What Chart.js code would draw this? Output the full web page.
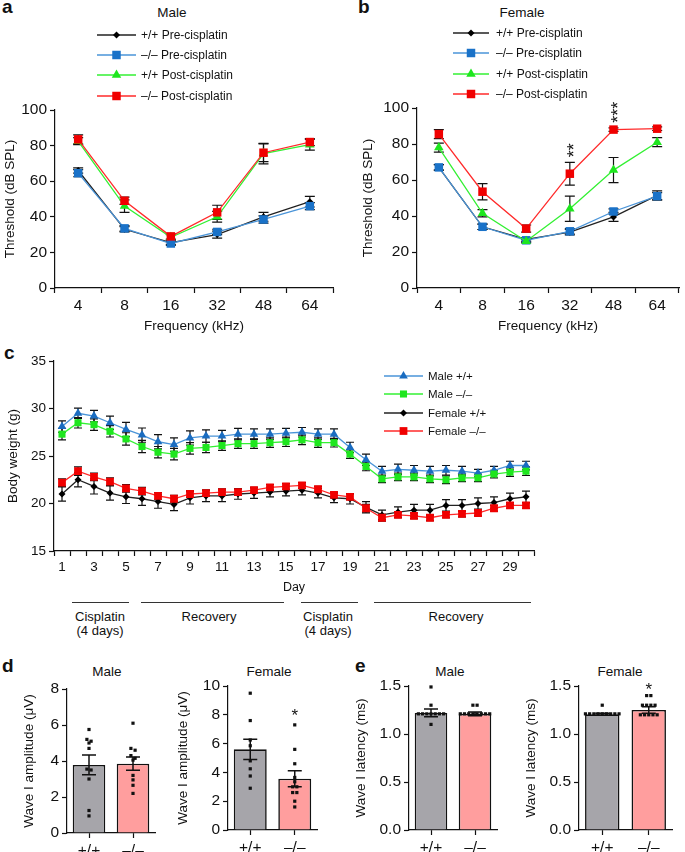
<!DOCTYPE html>
<html><head>
<meta charset="UTF-8">
<title>Cisplatin hearing thresholds, body weight and ABR wave I</title>
<script src="https://cdn.jsdelivr.net/npm/chart.js"></script>
<style>
  body { margin: 0; background: #fff; font-family: 'Liberation Sans', Arial, Helvetica, sans-serif; color: #111; }
  #fig { position: relative; width: 685px; height: 852px; overflow: hidden; }
  canvas { position: absolute; }
  .lbl { position: absolute; font-weight: bold; font-size: 19px; line-height: 19px; }
  .ttl { position: absolute; font-size: 13.5px; line-height: 16px; transform: translateX(-50%); white-space: nowrap; }
  .seg { position: absolute; height: 0; border-top: 1.6px solid #333; }
  .phase { position: absolute; font-size: 13px; line-height: 14px; text-align: center; transform: translateX(-50%); white-space: nowrap; }
</style>
</head>
<body>
<div id="fig">
  <div class="lbl" style="left:2px;top:-3px">a</div>
  <div class="lbl" style="left:358px;top:-3px">b</div>
  <div class="lbl" style="left:4px;top:343px">c</div>
  <div class="lbl" style="left:2px;top:656px">d</div>
  <div class="lbl" style="left:355px;top:656px">e</div>

  <div class="ttl" style="left:172px;top:5px">Male</div>
  <div class="ttl" style="left:522px;top:5px">Female</div>
  <div class="ttl" style="left:107px;top:664px">Male</div>
  <div class="ttl" style="left:269px;top:664px">Female</div>
  <div class="ttl" style="left:450px;top:664px">Male</div>
  <div class="ttl" style="left:620px;top:664px">Female</div>

  <canvas id="chartA" width="340" height="340" style="left:0;top:0"></canvas>
  <canvas id="chartB" width="345" height="340" style="left:340px;top:0"></canvas>
  <canvas id="chartC" width="545" height="260" style="left:0;top:340px"></canvas>
  <canvas id="chartD1" width="170" height="212" style="left:0;top:640px"></canvas>
  <canvas id="chartD2" width="160" height="212" style="left:170px;top:640px"></canvas>
  <canvas id="chartE1" width="165" height="212" style="left:340px;top:640px"></canvas>
  <canvas id="chartE2" width="180" height="212" style="left:505px;top:640px"></canvas>

  <div class="seg" style="left:72px;top:602px;width:57px"></div>
  <div class="seg" style="left:141px;top:602px;width:143px"></div>
  <div class="seg" style="left:301px;top:602px;width:57px"></div>
  <div class="seg" style="left:374px;top:602px;width:157px"></div>
  <div class="phase" style="left:100px;top:610px">Cisplatin<br>(4 days)</div>
  <div class="phase" style="left:209px;top:610px">Recovery</div>
  <div class="phase" style="left:328px;top:610px">Cisplatin<br>(4 days)</div>
  <div class="phase" style="left:456px;top:610px">Recovery</div>
</div>

<script>
  // ---- panel a / b : ABR thresholds (dB SPL), mean and SEM ----
  const freqLabels = ['4', '8', '16', '32', '48', '64'];

  const maleWtPre = [66, 33, 25.5, 30, 40, 48.5];
  const maleWtPreErr = [1.5, 1.5, 1, 2, 2.5, 3];
  const maleKoPre = [64.5, 33.5, 25, 31.5, 38.5, 46];
  const maleKoPreErr = [2, 1.5, 1, 1.5, 2, 2];
  const maleWtPost = [82.5, 46, 28.5, 40, 75.5, 80.5];
  const maleWtPostErr = [2, 3.5, 1.5, 3, 5.8, 3];
  const maleKoPost = [83.5, 49, 29, 42.5, 76, 82];
  const maleKoPostErr = [2.5, 2, 1.5, 4, 5, 2];

  const femWtPre = [67, 34, 27, 31, 39.5, 51.5];
  const femWtPreErr = [1.5, 1.5, 1, 1.5, 2.5, 2.5];
  const femKoPre = [67, 34, 26.5, 31.5, 42.5, 51];
  const femKoPreErr = [1.5, 1.5, 1, 1.5, 1.5, 2];
  const femWtPost = [78, 41.5, 26, 44, 65.5, 81];
  const femWtPostErr = [2.5, 2, 1, 7, 7, 2.5];
  const femKoPost = [85.5, 53.5, 33, 63.5, 88, 88.5];
  const femKoPostErr = [2.5, 4.5, 2, 6.3, 1, 1];
  const femKoPostSig = ['', '', '', '**', '***', ''];

  // ---- panel c : body weight (g) per day ----
  const dayLabels = ['1', '2', '3', '4', '5', '6', '7', '8', '9', '10', '11', '12', '13', '14', '15',
                     '16', '17', '18', '19', '20', '21', '22', '23', '24', '25', '26', '27', '28', '29', '30'];
  const wMaleWt = [28.1, 29.5, 29.2, 28.5, 27.8, 27.2, 26.5, 26.2, 26.9, 27.1, 27.1, 27.3, 27.3, 27.3, 27.4,
                   27.5, 27.3, 27.3, 25.9, 24.6, 23.4, 23.6, 23.5, 23.4, 23.5, 23.4, 23.2, 23.5, 24.0, 24.0];
  const wMaleWtErr = [0.6, 0.55, 0.6, 0.7, 0.75, 0.75, 0.75, 0.7, 0.75, 0.65, 0.6, 0.6, 0.55, 0.55, 0.5,
                      0.5, 0.55, 0.55, 0.55, 0.6, 0.5, 0.55, 0.5, 0.5, 0.5, 0.5, 0.4, 0.4, 0.45, 0.45];
  const wMaleKo = [27.3, 28.5, 28.3, 27.6, 26.8, 26.0, 25.4, 25.2, 25.8, 25.9, 26.1, 26.3, 26.3, 26.4, 26.5,
                   26.7, 26.4, 26.4, 25.2, 23.9, 22.6, 22.8, 22.8, 22.6, 22.5, 22.7, 22.7, 23.1, 23.3, 23.4];
  const wMaleKoErr = [0.6, 0.55, 0.6, 0.6, 0.65, 0.65, 0.6, 0.6, 0.6, 0.55, 0.5, 0.5, 0.5, 0.5, 0.5,
                      0.5, 0.5, 0.45, 0.45, 0.45, 0.4, 0.4, 0.4, 0.4, 0.4, 0.4, 0.4, 0.4, 0.45, 0.45];
  const wFemWt = [21.0, 22.5, 21.8, 21.1, 20.7, 20.5, 20.2, 19.9, 20.6, 20.8, 20.8, 21.0, 21.1, 21.2, 21.3,
                  21.4, 21.1, 20.6, 20.5, 19.6, 18.8, 19.1, 19.3, 19.3, 19.8, 19.8, 20.0, 20.1, 20.5, 20.7];
  const wFemWtErr = [0.75, 0.75, 0.8, 0.75, 0.7, 0.7, 0.7, 0.65, 0.65, 0.6, 0.6, 0.55, 0.55, 0.5, 0.5,
                     0.5, 0.5, 0.5, 0.55, 0.6, 0.5, 0.55, 0.6, 0.6, 0.6, 0.6, 0.6, 0.6, 0.6, 0.6];
  const wFemKo = [22.2, 23.4, 22.8, 22.3, 21.6, 21.3, 20.8, 20.5, 21.0, 21.1, 21.2, 21.2, 21.4, 21.7, 21.8,
                  21.9, 21.5, 20.9, 20.7, 19.5, 18.5, 18.8, 18.7, 18.5, 18.8, 18.9, 19.0, 19.5, 19.8, 19.8];
  const wFemKoErr = [0.4, 0.45, 0.4, 0.4, 0.4, 0.4, 0.35, 0.35, 0.35, 0.3, 0.35, 0.35, 0.3, 0.3, 0.3,
                     0.3, 0.3, 0.3, 0.3, 0.4, 0.35, 0.3, 0.3, 0.3, 0.3, 0.3, 0.3, 0.3, 0.3, 0.3];

  // ---- panel d / e : ABR wave I ----
  const genoLabels = ['+/+', '\u2013/\u2013'];

  const ampMaleMean = [3.78, 3.85];
  const ampMaleSem = [0.55, 0.37];
  const ampMaleWt = [5.75, 5.2, 5.1, 5.0, 4.7, 3.55, 3.5, 3.0, 1.25, 0.95];
  const ampMaleKo = [6.1, 4.7, 4.6, 4.3, 4.15, 4.05, 3.2, 2.95, 2.65, 2.2];

  const ampFemMean = [5.6, 3.56];
  const ampFemSem = [0.7, 0.56];
  const ampFemWt = [9.5, 7.6, 6.25, 5.85, 4.8, 4.25, 3.75, 2.9];
  const ampFemKo = [7.3, 5.6, 4.6, 3.65, 3.35, 3.0, 3.0, 2.6, 2.6, 2.0, 1.6];
  const ampFemStar = [null, 8.2];

  const latMaleMean = [1.22, 1.21];
  const latMaleSem = [0.04, 0.02];
  const latMaleWt = [1.49, 1.30, 1.21, 1.21, 1.21, 1.21, 1.21, 1.21, 1.21, 1.10];
  const latMaleKo = [1.30, 1.30, 1.21, 1.21, 1.21, 1.21, 1.21, 1.21, 1.21, 1.21];

  const latFemMean = [1.205, 1.25];
  const latFemSem = [0.01, 0.035];
  const latFemWt = [1.30, 1.21, 1.21, 1.21, 1.21, 1.21, 1.21, 1.21, 1.21, 1.21];
  const latFemKo = [1.40, 1.40, 1.30, 1.30, 1.30, 1.30, 1.20, 1.20, 1.20, 1.20, 1.20];
  const latFemStar = [null, 1.5];

  const FONT = "'Liberation Sans', Arial, Helvetica, sans-serif";
  const INK = '#111';

  function yAxis(o) {
    const ticks = { stepSize: o.step, color: INK, padding: 3, font: { family: FONT, size: o.tick || 15.5 } };
    if (o.fmt) ticks.callback = o.fmt;
    return {
      type: 'linear', position: 'left', min: o.min, max: o.max, ticks,
      grid: { drawOnChartArea: false, drawTicks: true, tickLength: 5, tickColor: INK, tickWidth: 1.2 },
      border: { display: true, color: INK, width: 1.2 },
      title: { display: true, text: o.title, color: INK, font: { family: FONT, size: 13.5 },
               padding: { top: o.tpad || 0, bottom: 0 } },
      afterFit: s => { s.width = o.width; }
    };
  }

  function xAxis(o) {
    const ticks = { color: INK, padding: 3, autoSkip: false, maxRotation: 0, minRotation: 0,
                    font: { family: FONT, size: o.tick || 15.5 } };
    if (o.cb) ticks.callback = o.cb;
    return {
      type: 'category', offset: true, ticks,
      grid: { offset: o.gridOffset, drawOnChartArea: false, drawTicks: true, tickLength: 5, tickColor: INK, tickWidth: 1.2 },
      border: { display: true, color: INK, width: 1.2 },
      title: o.title ? { display: true, text: o.title, color: INK, font: { family: FONT, size: o.titleSize || 13.5 },
                         padding: { top: 2, bottom: o.tb || 4 } } : { display: false },
      afterFit: s => { s.height = o.height; }
    };
  }

  function lineDs(label, data, err, mark, line, style, radius, order) {
    return {
      label, data, err, order,
      borderColor: line, backgroundColor: mark, borderWidth: 1.3,
      pointStyle: style, pointRadius: radius, pointHoverRadius: radius,
      pointBackgroundColor: mark, pointBorderColor: mark, pointBorderWidth: 0,
      tension: 0
    };
  }

  function marker(ctx, style, r, x, y, color) {
    ctx.save();
    ctx.fillStyle = color;
    ctx.beginPath();
    if (style === 'rect') {
      const s = Math.SQRT1_2 * r;
      ctx.rect(x - s, y - s, 2 * s, 2 * s);
    } else if (style === 'rectRot') {
      ctx.moveTo(x, y - r); ctx.lineTo(x + r, y); ctx.lineTo(x, y + r); ctx.lineTo(x - r, y);
    } else if (style === 'triangle') {
      ctx.moveTo(x, y - r);
      ctx.lineTo(x + r * 0.866, y + r * 0.5);
      ctx.lineTo(x - r * 0.866, y + r * 0.5);
    } else {
      ctx.arc(x, y, r, 0, Math.PI * 2);
    }
    ctx.closePath();
    ctx.fill();
    ctx.restore();
  }

  // group nearby dots into rows so they sit side by side
  function spread(vals, ys) {
    const pts = vals.map(v => ({ v, y: ys.getPixelForValue(v) })).sort((a, b) => a.y - b.y);
    const groups = [];
    pts.forEach(p => {
      const g = groups[groups.length - 1];
      if (g && p.y - g[0].y < 3) g.push(p); else groups.push([p]);
    });
    const out = [];
    groups.forEach(g => g.forEach((p, k) => out.push({ y: p.y, dx: (k - (g.length - 1) / 2) * 4.2 })));
    return out;
  }

  const decor = {
    id: 'decor',
    beforeDatasetsDraw(chart, args, opts) {
      const ctx = chart.ctx, ys = chart.scales.y;
      const cap = opts.cap || 10;
      ctx.save();
      ctx.strokeStyle = INK;
      ctx.lineWidth = 1.2;
      chart.data.datasets.forEach((ds, i) => {
        if (!ds.err) return;
        chart.getDatasetMeta(i).data.forEach((pt, j) => {
          const v = ds.data[j], e = ds.err[j];
          const yt = ys.getPixelForValue(v + e), yb = ys.getPixelForValue(v - e);
          ctx.beginPath();
          ctx.moveTo(pt.x, yt); ctx.lineTo(pt.x, yb);
          ctx.moveTo(pt.x - cap / 2, yt); ctx.lineTo(pt.x + cap / 2, yt);
          ctx.moveTo(pt.x - cap / 2, yb); ctx.lineTo(pt.x + cap / 2, yb);
          ctx.stroke();
        });
      });
      ctx.restore();
    },
    afterDatasetsDraw(chart, args, opts) {
      const ctx = chart.ctx, ys = chart.scales.y, xs = chart.scales.x;
      ctx.save();
      chart.data.datasets.forEach((ds, i) => {
        const meta = chart.getDatasetMeta(i);
        if (ds.sig) {
          ctx.fillStyle = INK;
          ctx.font = '18px ' + FONT;
          ctx.textAlign = 'left';
          ctx.textBaseline = 'alphabetic';
          meta.data.forEach((pt, j) => {
            if (!ds.sig[j]) return;
            const yt = ys.getPixelForValue(ds.data[j] + ds.err[j]);
            ctx.save();
            ctx.translate(pt.x + 10, yt - 5);
            ctx.rotate(-Math.PI / 2);
            ctx.fillText(ds.sig[j], 0, 0);
            ctx.restore();
          });
        }
        if (ds.sem) {
          ctx.strokeStyle = INK;
          ctx.lineWidth = 1.5;
          meta.data.forEach((bar, j) => {
            const m = ds.data[j], e = ds.sem[j];
            const yt = ys.getPixelForValue(m + e), yb = ys.getPixelForValue(m - e);
            ctx.beginPath();
            ctx.moveTo(bar.x, yt); ctx.lineTo(bar.x, yb);
            ctx.moveTo(bar.x - 7, yt); ctx.lineTo(bar.x + 7, yt);
            ctx.moveTo(bar.x - 7, yb); ctx.lineTo(bar.x + 7, yb);
            ctx.stroke();
          });
        }
        if (ds.dots) {
          ctx.fillStyle = INK;
          ds.dots.forEach((vals, j) => {
            const cx = xs.getPixelForValue(j);
            spread(vals, ys).forEach(p => ctx.fillRect(cx + p.dx - 1.6, p.y - 1.6, 3.2, 3.2));
          });
        }
        if (ds.stars) {
          ctx.fillStyle = INK;
          ctx.font = '17px ' + FONT;
          ctx.textAlign = 'center';
          ctx.textBaseline = 'alphabetic';
          ds.stars.forEach((v, j) => {
            if (v === null) return;
            ctx.fillText('*', xs.getPixelForValue(j), ys.getPixelForValue(v) + 9);
          });
        }
      });
      ctx.restore();
    },
    afterDraw(chart, args, opts) {
      const lg = opts.legend;
      if (!lg) return;
      const ctx = chart.ctx;
      ctx.save();
      ctx.font = lg.size + 'px ' + FONT;
      ctx.textBaseline = 'middle';
      ctx.textAlign = 'left';
      chart.data.datasets.forEach((ds, i) => {
        const y = lg.ys[i];
        ctx.strokeStyle = ds.borderColor;
        ctx.lineWidth = ds.borderWidth;
        ctx.beginPath();
        ctx.moveTo(lg.x0, y); ctx.lineTo(lg.x1, y);
        ctx.stroke();
        marker(ctx, ds.pointStyle, ds.pointRadius, (lg.x0 + lg.x1) / 2, y, ds.pointBackgroundColor);
        ctx.fillStyle = INK;
        ctx.fillText(ds.label, lg.tx, y + 0.5);
      });
      ctx.restore();
    }
  };

  const BLACK = '#000000', BLUE = '#1a72c8', BLUE_LINE = '#4a94d8';
  const GREEN = '#1ee61e', GREEN_LINE = '#33f033', RED = '#f00000', RED_LINE = '#ff2a2a';

  function thresholdChart(id, series, pad, yWidth, legend) {
    const [wtPre, wtPreE, koPre, koPreE, wtPost, wtPostE, koPost, koPostE, sig] = series;
    const red = lineDs('\u2013/\u2013 Post-cisplatin', koPost, koPostE, RED, RED_LINE, 'rect', 6, 0);
    if (sig) red.sig = sig;
    return new Chart(document.getElementById(id), {
      type: 'line',
      data: {
        labels: freqLabels,
        datasets: [
          lineDs('+/+ Pre-cisplatin', wtPre, wtPreE, BLACK, '#222', 'rectRot', 3.5, 3),
          lineDs('\u2013/\u2013 Pre-cisplatin', koPre, koPreE, BLUE, BLUE_LINE, 'rect', 6, 2),
          lineDs('+/+ Post-cisplatin', wtPost, wtPostE, GREEN, GREEN_LINE, 'triangle', 5.5, 1),
          red
        ]
      },
      options: {
        responsive: false, animation: false,
        layout: { padding: pad },
        plugins: { legend: { display: false }, tooltip: { enabled: false }, decor: { cap: 10, legend } },
        scales: {
          x: xAxis({ gridOffset: true, height: 52, title: 'Frequency (kHz)', tb: 6 }),
          y: yAxis({ min: 0, max: 100, step: 20, title: 'Threshold (dB SPL)', width: yWidth, tpad: 2 })
        }
      },
      plugins: [decor]
    });
  }

  thresholdChart('chartA',
    [maleWtPre, maleWtPreErr, maleKoPre, maleKoPreErr, maleWtPost, maleWtPostErr, maleKoPost, maleKoPostErr, null],
    { left: 0, top: 110, right: 7, bottom: 0 }, 55,
    { x0: 97, x1: 136, tx: 141, ys: [35, 55, 75, 96], size: 12 });

  thresholdChart('chartB',
    [femWtPre, femWtPreErr, femKoPre, femKoPreErr, femWtPost, femWtPostErr, femKoPost, femKoPostErr, femKoPostSig],
    { left: 18, top: 108, right: 0, bottom: 0 }, 59,
    { x0: 113, x1: 149, tx: 156, ys: [33, 53, 74, 94], size: 12 });

  new Chart(document.getElementById('chartC'), {
    type: 'line',
    data: {
      labels: dayLabels,
      datasets: [
        lineDs('Male +/+', wMaleWt, wMaleWtErr, '#1a6cc0', BLUE_LINE, 'triangle', 5, 3),
        lineDs('Male \u2013/\u2013', wMaleKo, wMaleKoErr, GREEN, GREEN_LINE, 'rect', 5, 2),
        lineDs('Female +/+', wFemWt, wFemWtErr, BLACK, '#222', 'rectRot', 3.5, 1),
        lineDs('Female \u2013/\u2013', wFemKo, wFemKoErr, RED, RED_LINE, 'rect', 5.5, 0)
      ]
    },
    options: {
      responsive: false, animation: false,
      layout: { padding: { left: 0, top: 21, right: 11, bottom: 0 } },
      plugins: { legend: { display: false }, tooltip: { enabled: false },
                 decor: { cap: 8, legend: { x0: 384, x1: 423, tx: 428, ys: [36, 54, 73, 91], size: 11.5 } } },
      scales: {
        x: xAxis({ gridOffset: true, height: 49, title: 'Day', titleSize: 12.5, tb: 5, tick: 13.5,
                   cb: function (v, i) { return i % 2 === 0 ? this.getLabelForValue(v) : ''; } }),
        y: yAxis({ min: 15, max: 35, step: 5, title: 'Body weight (g)', width: 54, tpad: 5, tick: 13.5 })
      }
    },
    plugins: [decor]
  });

  function waveChart(id, mean, sem, dots, stars, yOpts, pad, xHeight) {
    const ds = {
      data: mean, sem, dots,
      backgroundColor: ['#a6a5aa', '#ff9e9e'],
      borderColor: INK, borderWidth: 1.6, borderSkipped: 'bottom',
      barPercentage: 0.74, categoryPercentage: 1
    };
    if (stars) ds.stars = stars;
    return new Chart(document.getElementById(id), {
      type: 'bar',
      data: { labels: genoLabels, datasets: [ds] },
      options: {
        responsive: false, animation: false,
        layout: { padding: pad },
        plugins: { legend: { display: false }, tooltip: { enabled: false } },
        scales: {
          x: xAxis({ gridOffset: false, height: xHeight }),
          y: yAxis(yOpts)
        }
      },
      plugins: [decor]
    });
  }

  const fmt1 = v => v.toFixed(1);

  waveChart('chartD1', ampMaleMean, ampMaleSem, [ampMaleWt, ampMaleKo], null,
    { min: 0, max: 8, step: 2, title: 'Wave I amplitude (\u03bcV)', width: 46 },
    { left: 21, top: 49, right: 15, bottom: 0 }, 19);

  waveChart('chartD2', ampFemMean, ampFemSem, [ampFemWt, ampFemKo], ampFemStar,
    { min: 0, max: 10, step: 2, title: 'Wave I amplitude (\u03bcV)', width: 53 },
    { left: 5, top: 46, right: 13, bottom: 0 }, 22);

  waveChart('chartE1', latMaleMean, latMaleSem, [latMaleWt, latMaleKo], null,
    { min: 0, max: 1.5, step: 0.5, title: 'Wave I latency (ms)', width: 56, fmt: fmt1 },
    { left: 13, top: 46, right: 8, bottom: 0 }, 22);

  waveChart('chartE2', latFemMean, latFemSem, [latFemWt, latFemKo], latFemStar,
    { min: 0, max: 1.5, step: 0.5, title: 'Wave I latency (ms)', width: 56, fmt: fmt1 },
    { left: 18, top: 46, right: 13, bottom: 0 }, 22);
</script>
</body></html>
